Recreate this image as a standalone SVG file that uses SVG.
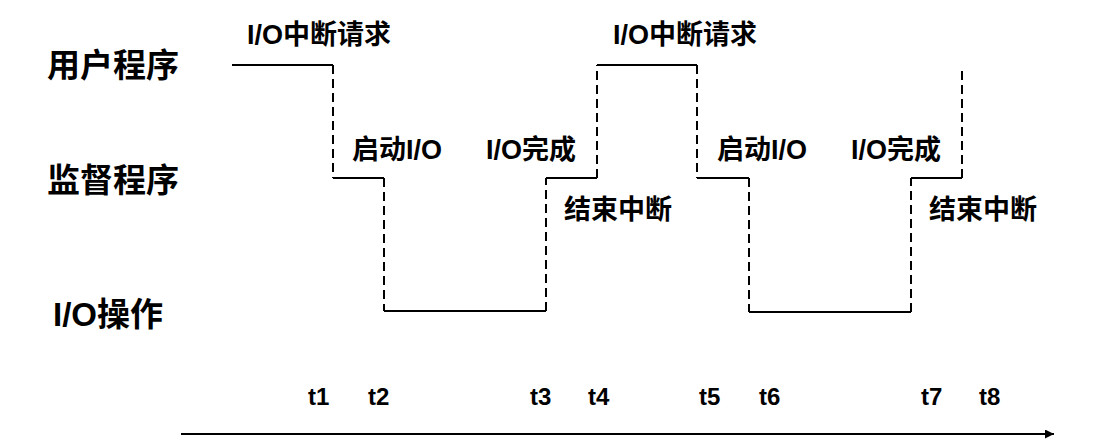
<svg xmlns="http://www.w3.org/2000/svg" width="1107" height="448" viewBox="0 0 1107 448">
  <style>
    .lbl { font-family: "Liberation Sans", "Noto Sans CJK SC", sans-serif; font-weight: bold; fill: #000; }
    .row { font-size: 33px; }
    .ev { font-size: 27px; }
    .t { font-size: 24px; }
    .solid { stroke: #000; stroke-width: 2; fill: none; }
    .dash { stroke: #000; stroke-width: 2; fill: none; stroke-dasharray: 9 5; }
  </style>
  <defs>
    <marker id="arrow" viewBox="0 0 10 10" refX="10" refY="5" markerWidth="5" markerHeight="4.5" orient="auto" markerUnits="strokeWidth">
      <path d="M0,0 L10,5 L0,10 z" fill="#000"/>
    </marker>
  </defs>

  <g id="row-labels">
    <text class="lbl row" x="47" y="77">用户程序</text>
    <text class="lbl row" x="47" y="192">监督程序</text>
    <text class="lbl row" x="53" y="326">I/O操作</text>
  </g>

  <g id="event-labels">
    <text class="lbl ev" x="247" y="44">I/O中断请求</text>
    <text class="lbl ev" x="352" y="159">启动I/O</text>
    <text class="lbl ev" x="486" y="159">I/O完成</text>
    <text class="lbl ev" x="564" y="219">结束中断</text>
    <text class="lbl ev" x="613" y="44">I/O中断请求</text>
    <text class="lbl ev" x="717" y="159">启动I/O</text>
    <text class="lbl ev" x="851" y="159">I/O完成</text>
    <text class="lbl ev" x="929" y="219">结束中断</text>
  </g>

  <g id="time-labels">
    <text class="lbl t" x="308" y="405">t1</text>
    <text class="lbl t" x="368" y="405">t2</text>
    <text class="lbl t" x="530" y="405">t3</text>
    <text class="lbl t" x="588" y="405">t4</text>
    <text class="lbl t" x="699" y="405">t5</text>
    <text class="lbl t" x="759" y="405">t6</text>
    <text class="lbl t" x="921" y="405">t7</text>
    <text class="lbl t" x="979" y="405">t8</text>
  </g>

  <g id="connectors">
    <!-- solid horizontal segments -->
    <path class="solid" d="M232,65 H333 M333,178 H384 M384,311 H546 M546,178 H597 M597,65 H697 M697,178 H749 M749,312 H911 M911,178 H962"/>
    <!-- dashed vertical transitions -->
    <path class="dash" d="M333,65 V178 M384,178 V311 M546,311 V178 M597,178 V65 M697,65 V178 M749,178 V312 M911,312 V178 M962,178 V71"/>
    <!-- time axis -->
    <line class="solid" x1="181" y1="434" x2="1054" y2="434" marker-end="url(#arrow)"/>
  </g>
</svg>
